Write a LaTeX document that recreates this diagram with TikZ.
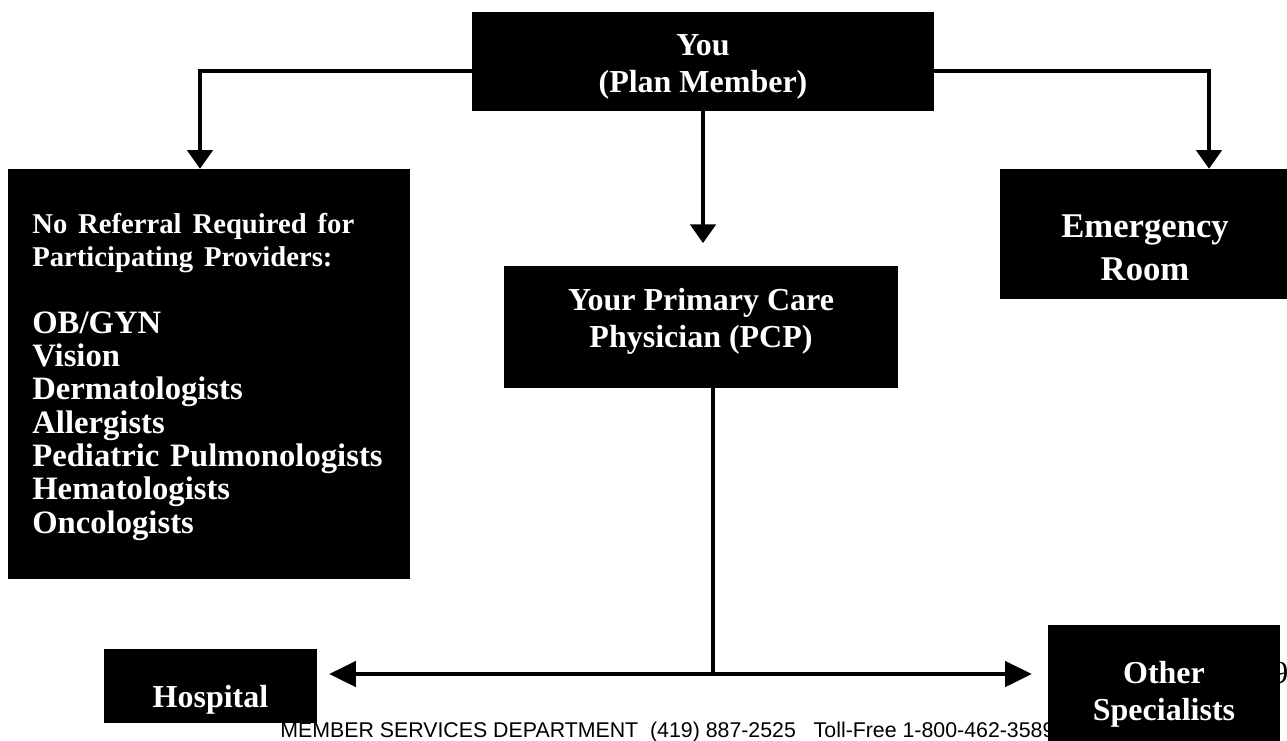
\documentclass[tikz,border=0pt]{standalone}
\usepackage{fontspec}
\setmainfont{Liberation Serif}
\setsansfont{Liberation Sans}
\usetikzlibrary{arrows.meta, positioning, calc}
\tikzset{
    %Define standard arrow tip
    >={Triangle[width=19pt,length=14pt]},
    %Define style for boxes
    kasse/.style={
           rectangle,
           fill=black,
           text=white,
           font=\bfseries\fontsize{24}{27.75}\selectfont,
           align=center,
           inner sep=0pt},
    % Define arrow style
    pil/.style={
           ->,
           line width=2.8pt}
}

\begin{document}
\begin{tikzpicture}[x=0.75pt, y=-0.75pt]
	\useasboundingbox (0,0) rectangle (1287,740);
	\clip (0,0) rectangle (1287,740);
	%
	% noeuds
	%
	\node[font=\sffamily\fontsize{16}{18}\selectfont, anchor=base west, inner sep=0pt] (footer) at (280,737)
		{MEMBER SERVICES DEPARTMENT\ \ (419) 887-2525\ \ \ Toll-Free 1-800-462-3589};
	\node[font=\fontsize{24}{27.75}\selectfont, anchor=base west, inner sep=0pt] (pagenum) at (1272,683) {9};
	\node[kasse, minimum width=346.5pt, minimum height=74.25pt, text height=52pt, text depth=6.25pt] (you) at (703,61.5) {You\\(Plan Member)};
	\node[kasse, minimum width=301.5pt, minimum height=307.5pt, align=left, text width=265pt, inner xsep=18pt,
		text height=20pt, text depth=231.5pt, font=\bfseries\fontsize{24.5}{25}\selectfont] (norefer) at (209,374)
		{{\fontsize{21.5}{25}\selectfont No Referral Required for\\Participating Providers:}\\[25pt]OB/GYN\\Vision\\Dermatologists\\Allergists\\Pediatric Pulmonologists\\Hematologists\\Oncologists};
	\node[kasse, minimum width=295.5pt, minimum height=91.5pt, text height=52pt, text depth=22pt] (pcp) at (701,327) {Your Primary Care\\Physician (PCP)};
	\node[kasse, minimum width=217.5pt, minimum height=97.5pt, text height=76pt, text depth=7pt, font=\bfseries\fontsize{26}{32}\selectfont] (emerg) at (1145,234) {Emergency\\Room};
	\node[kasse, minimum width=159.75pt, minimum height=55.5pt, text height=36pt, text depth=4.5pt] (hosp) at (210.5,686) {Hospital};
	\node[kasse, minimum width=174pt, minimum height=103.5pt, text height=50pt, text depth=11pt] (other) at (1164,694) {Other\\Specialists};
	\coordinate (fork) at (713,674);
	%
	% Liens
	%
	\draw[pil] ([yshift=-7pt]you.west) -| ([xshift=-6.75pt]norefer.north);
	\draw[pil] ([yshift=-7pt]you.east) -| ([xshift=48pt]emerg.north);
	\draw[pil, shorten >=17pt] (you.south) -- (you.south |- pcp.north);
	\draw[pil, -] ([xshift=9pt]pcp.south) -- (fork);
	\draw[pil, >={Triangle[width=19pt,length=20pt]}] (fork) -- ([xshift=9pt]hosp.east |- fork);
	\draw[pil, >={Triangle[width=19pt,length=20pt]}] (fork) -- ([xshift=-12pt]other.west |- fork);
\end{tikzpicture}
\end{document}
